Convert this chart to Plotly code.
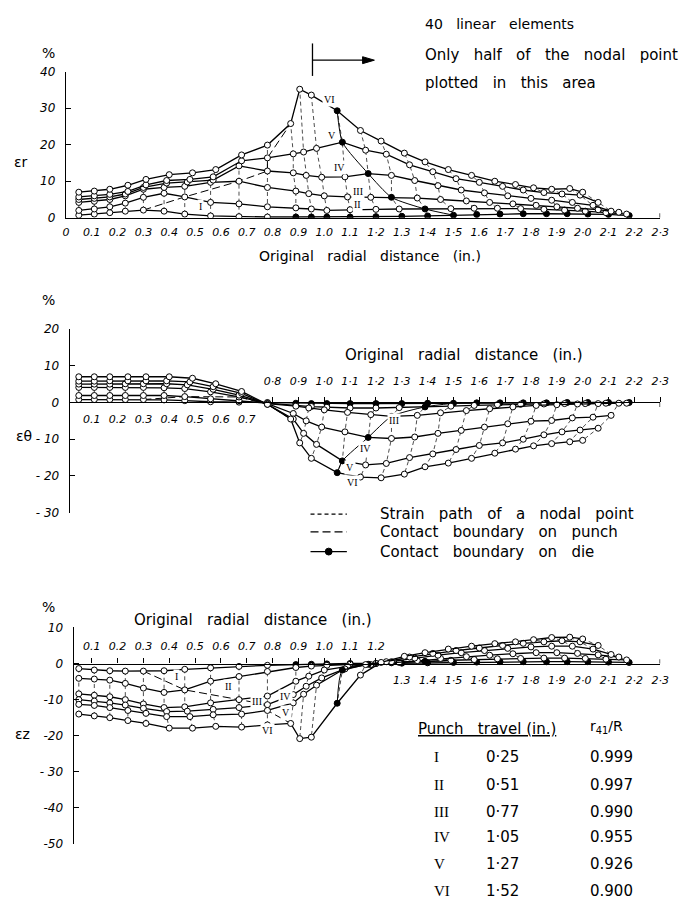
import plotly.graph_objects as go

W, H = 685, 920


def px(x):
    return x / W


def py(y):
    return 1 - y / H


# ---------------- data ----------------
STAGES = ["I", "II", "III", "IV", "V", "VI"]
PUNCH_TRAVEL = ["0·25", "0·51", "0·77", "1·05", "1·27", "1·52"]
R41_R = ["0.999", "0.997", "0.990", "0.955", "0.926", "0.900"]

# radial position (in.) of the plotted nodal points at each punch travel
X_I = [0.05, 0.11, 0.17, 0.23, 0.30, 0.38, 0.46, 0.56, 0.67, 0.78, 0.89, 0.95, 1.01, 1.10, 1.20, 1.30, 1.40, 1.50, 1.59, 1.68, 1.77, 1.86, 1.94, 2.02, 2.10, 2.18]
X_II = [0.05, 0.11, 0.17, 0.23, 0.30, 0.38, 0.46, 0.56, 0.67, 0.78, 0.89, 0.95, 1.01, 1.10, 1.20, 1.29, 1.39, 1.49, 1.58, 1.67, 1.76, 1.85, 1.93, 2.01, 2.09, 2.17]
X_III = [0.05, 0.11, 0.17, 0.23, 0.30, 0.38, 0.46, 0.56, 0.67, 0.78, 0.89, 0.94, 1.00, 1.09, 1.18, 1.26, 1.36, 1.45, 1.55, 1.64, 1.73, 1.82, 1.90, 1.98, 2.06, 2.14]
X_IV = [0.05, 0.11, 0.17, 0.23, 0.30, 0.39, 0.47, 0.57, 0.67, 0.78, 0.88, 0.93, 0.99, 1.08, 1.17, 1.26, 1.35, 1.44, 1.53, 1.62, 1.71, 1.80, 1.88, 1.96, 2.04, 2.11]
X_V = [0.05, 0.11, 0.17, 0.24, 0.31, 0.39, 0.48, 0.57, 0.68, 0.78, 0.88, 0.92, 0.97, 1.07, 1.16, 1.24, 1.33, 1.42, 1.51, 1.60, 1.69, 1.77, 1.85, 1.92, 1.99, 2.06]
X_VI = [0.05, 0.11, 0.17, 0.24, 0.31, 0.40, 0.49, 0.58, 0.68, 0.78, 0.87, 0.905, 0.95, 1.05, 1.14, 1.22, 1.31, 1.39, 1.48, 1.57, 1.66, 1.74, 1.81, 1.88, 1.95, 2.00]

# radial strain (%)
ER_I = [0.7, 1.0, 1.4, 1.8, 2.1, 1.8, 1.0, 0.5, 0.3, 0.2, 0.2, 0.2, 0.2, 0.2, 0.3, 0.4, 0.5, 0.7, 0.9, 1.0, 1.1, 1.1, 1.1, 1.0, 0.9, 0.6]
ER_II = [2.0, 2.4, 3.0, 4.0, 5.6, 6.7, 5.7, 4.2, 3.8, 3.0, 2.7, 2.4, 2.0, 2.2, 2.3, 2.4, 2.4, 2.5, 2.6, 2.6, 2.5, 2.3, 2.1, 1.8, 1.4, 1.0]
ER_III = [4.2, 4.5, 5.0, 6.0, 7.8, 8.3, 8.6, 9.7, 10.0, 8.3, 7.3, 6.6, 6.0, 5.7, 5.6, 5.6, 5.4, 5.0, 4.6, 4.2, 3.8, 3.4, 3.0, 2.6, 2.2, 1.5]
ER_IV = [5.0, 5.3, 5.7, 6.5, 8.3, 9.5, 9.8, 10.3, 14.2, 12.8, 12.3, 11.6, 11.1, 11.2, 12.1, 11.6, 10.2, 8.8, 7.6, 6.8, 6.0, 5.3, 4.8, 4.2, 3.4, 1.8]
ER_V = [5.7, 6.0, 6.4, 7.2, 9.0, 10.2, 10.5, 11.2, 15.6, 16.4, 17.5, 18.0, 19.0, 20.7, 18.5, 17.4, 14.5, 12.6, 10.7, 9.7, 8.6, 7.6, 6.9, 6.5, 6.2, 4.2]
ER_VI = [7.0, 7.3, 7.8, 8.9, 10.5, 11.8, 12.3, 13.2, 17.2, 19.9, 25.8, 35.2, 33.6, 29.3, 23.9, 21.0, 17.7, 15.3, 13.2, 11.6, 10.0, 9.1, 8.2, 7.8, 8.0, 7.0]

# circumferential strain (%)
ET_I = [0.8, 0.8, 0.8, 0.8, 0.8, 0.7, 0.5, 0.2, 0.1, 0.0, -0.2, -0.3, -0.3, -0.3, -0.3, -0.3, -0.2, -0.2, -0.1, -0.1, -0.1, -0.1, 0.0, 0.0, 0.0, 0.0]
ET_II = [1.9, 1.9, 1.9, 1.9, 1.9, 1.9, 1.6, 1.0, 0.5, -0.2, -0.8, -1.1, -1.3, -1.5, -1.5, -1.4, -1.2, -1.0, -0.8, -0.6, -0.5, -0.4, -0.3, -0.3, -0.2, -0.2]
ET_III = [4.1, 4.1, 4.1, 4.1, 4.1, 4.0, 3.8, 2.9, 1.5, -0.3, -1.0, -1.5, -2.0, -2.7, -3.3, -3.8, -3.5, -2.8, -2.2, -1.7, -1.2, -0.8, -0.6, -0.4, -0.3, -0.2]
ET_IV = [5.0, 5.0, 5.0, 5.1, 5.1, 5.1, 4.8, 3.6, 2.0, -0.3, -3.0, -5.0, -6.7, -8.0, -9.5, -9.8, -9.4, -8.4, -7.6, -6.7, -5.8, -5.1, -4.9, -4.2, -4.0, -3.5]
ET_V = [5.8, 5.8, 5.9, 5.9, 5.9, 5.9, 5.6, 4.3, 2.5, -0.5, -4.5, -8.4, -11.4, -15.9, -17.0, -16.6, -15.0, -14.0, -12.8, -11.7, -11.0, -10.0, -8.8, -8.0, -7.5, -7.0]
ET_VI = [7.0, 7.0, 7.0, 7.0, 7.0, 7.0, 6.6, 5.1, 3.0, -0.5, -4.5, -11.0, -15.2, -19.1, -20.3, -20.5, -19.5, -17.5, -16.5, -15.2, -13.8, -12.7, -11.8, -11.2, -10.7, -10.3]

# thickness strain (%)
EZ_I = [-1.4, -1.8, -2.0, -2.1, -2.1, -2.0, -1.6, -1.2, -0.8, -0.5, -0.3, -0.2, -0.1, 0.0, 0.0, 0.1, 0.2, 0.3, 0.4, 0.5, 0.5, 0.5, 0.5, 0.5, 0.4, 0.3]
EZ_II = [-4.1, -4.3, -4.6, -5.5, -6.8, -8.0, -7.3, -4.9, -3.6, -2.2, -1.1, -0.7, -0.5, -0.2, 0.0, 0.3, 0.6, 0.9, 1.1, 1.3, 1.4, 1.5, 1.5, 1.4, 1.2, 1.0]
EZ_III = [-8.4, -8.8, -9.2, -10.0, -11.2, -12.2, -12.0, -10.9, -10.0, -9.0, -4.9, -3.5, -1.8, -0.8, -0.3, 0.2, 0.8, 1.4, 1.9, 2.3, 2.7, 3.0, 3.0, 2.8, 2.4, 1.8]
EZ_IV = [-10.0, -10.4, -10.9, -11.5, -12.4, -13.3, -13.2, -12.7, -12.2, -11.4, -8.6, -6.3, -4.0, -1.5, -0.2, 0.5, 1.5, 2.3, 3.0, 3.6, 4.2, 4.6, 4.8, 4.8, 4.0, 2.5]
EZ_V = [-11.3, -11.6, -12.2, -13.0, -13.8, -14.7, -14.7, -14.2, -14.0, -13.0, -10.9, -8.5, -6.0, -1.8, -0.3, 0.5, 1.8, 2.8, 3.6, 4.3, 5.0, 5.6, 6.0, 6.3, 6.0, 5.0]
EZ_VI = [-14.0, -14.5, -15.0, -15.8, -16.6, -17.9, -17.9, -17.4, -17.6, -17.0, -16.6, -20.8, -20.4, -11.0, -3.2, 0.3, 2.0, 3.0, 4.0, 4.8, 5.5, 6.0, 6.6, 7.2, 7.3, 6.8]

# node index of the contact boundaries at each stage (I..VI)
DIE_NODE = [17, 16, 15, 14, 13, 13]
PUNCH_NODE = [4, 6, 8, 9, 9, 10]
FIRST_DIE_NODE_I = 10  # nodes of stage I lying on the die from here on

# tick labels (original radial distance, in.)
TICKS_ALL = [0.1 * i for i in range(24)]
TOP_TEXT = ["0", "0.1", "0.2", "0.3", "0.4", "0.5", "0.6", "0.7", "0.8", "0.9", "1.0", "1.1",
            "1·2", "1.3", "1·4", "1·5", "1.6", "1·7", "1·8", "1·9", "2·0", "2·1", "2·2", "2·3"]
MID_LEFT_TEXT = ["0.1", "0.2", "0.3", "0.4", "0.5", "0.6", "0.7"]
MID_RIGHT_TEXT = ["0·8", "0·9", "1·0", "1·1", "1·2", "1·3", "1·4", "1·5", "1·6", "1·7", "1·8",
                  "1·9", "2·0", "2·1", "2·2", "2·3"]
BOT_LEFT_TEXT = ["0.1", "0.2", "0.3", "0.4", "0.5", "0.6", "0.7", "0.8", "0.9", "1.0", "1.1", "1.2"]
BOT_RIGHT_TEXT = ["1.3", "1.4", "1·5", "1·6", "1·7", "1·8", "1·9", "2·0", "2·1", "2·2", "2·3"]

TOP_Y_TICKS = [0, 10, 20, 30, 40]
TOP_Y_TEXT = ["0", "10", "20", "30", "40"]
MID_Y_TICKS = [20, 10, 0, -10, -20, -30]
MID_Y_TEXT = ["20", "10", "0", "- 10", "- 20", "- 30"]
BOT_Y_TICKS = [10, 0, -10, -20, -30, -40, -50]
BOT_Y_TEXT = ["10", "0", "-10", "-20", "- 30", "-40", "-50"]

X_POS = [X_I, X_II, X_III, X_IV, X_V, X_VI]
PANEL_VALUES = [
    [ER_I, ER_II, ER_III, ER_IV, ER_V, ER_VI],
    [ET_I, ET_II, ET_III, ET_IV, ET_V, ET_VI],
    [EZ_I, EZ_II, EZ_III, EZ_IV, EZ_V, EZ_VI],
]

# ---------------- layout geometry ----------------
FONT = "DejaVu Sans"
SP = "\u00a0"
PX_PER_IN = 263.0
X0_PX = 64.0
X_END = 2.3
panels = [
    dict(xa="x", ya="y", xstart=0.0, yr=[0, 40], ypx=(65.7, 214.0)),
    dict(xa="x2", ya="y2", xstart=0.015, yr=[-30, 20], ypx=(327.0, 513.5)),
    dict(xa="x3", ya="y3", xstart=0.03, yr=[-50, 10], ypx=(630.0, 850.0)),
]
for p in panels:
    d0 = px(X0_PX + PX_PER_IN * p["xstart"])
    d1 = px(X0_PX + PX_PER_IN * X_END)
    p["xdom"] = [d0, d1]
    p["ydom"] = [py(p["ypx"][1]), py(p["ypx"][0])]
    lo, hi = p["yr"]
    p["zero"] = p["ydom"][0] + (0 - lo) / (hi - lo) * (p["ydom"][1] - p["ydom"][0])

fig = go.Figure()

for p, vals in zip(panels, PANEL_VALUES):
    xa, ya = p["xa"], p["ya"]
    n = len(X_I)
    # strain paths of the nodal points
    sx, sy = [], []
    for k in range(n):
        for c in range(6):
            sx.append(X_POS[c][k])
            sy.append(vals[c][k])
        sx.append(None)
        sy.append(None)
    fig.add_trace(go.Scatter(x=sx, y=sy, mode="lines", xaxis=xa, yaxis=ya,
                             line=dict(color="black", width=0.7, dash="4px,3px"),
                             hoverinfo="skip", showlegend=False))
    # contact boundary on punch
    fig.add_trace(go.Scatter(x=[X_POS[c][PUNCH_NODE[c]] for c in range(6)],
                             y=[vals[c][PUNCH_NODE[c]] for c in range(6)],
                             mode="lines", xaxis=xa, yaxis=ya,
                             line=dict(color="black", width=1.0, dash="8px,4px"),
                             hoverinfo="skip", showlegend=False))
    # contact boundary on die
    fig.add_trace(go.Scatter(x=[X_POS[c][DIE_NODE[c]] for c in range(6)],
                             y=[vals[c][DIE_NODE[c]] for c in range(6)],
                             mode="lines", xaxis=xa, yaxis=ya,
                             line=dict(color="black", width=1.0, shape="spline", smoothing=0.6),
                             hoverinfo="skip", showlegend=False))
    # strain distributions at each punch travel
    for c in range(6):
        colors = []
        for k in range(n):
            filled = (k == DIE_NODE[c]) or (c == 0 and k >= FIRST_DIE_NODE_I)
            colors.append("black" if filled else "white")
        fig.add_trace(go.Scatter(x=X_POS[c], y=vals[c], mode="lines+markers",
                                 xaxis=xa, yaxis=ya, name=STAGES[c],
                                 line=dict(color="black", width=1.3),
                                 marker=dict(symbol="circle", size=6, color=colors,
                                             line=dict(color="black", width=1)),
                                 showlegend=False))

# empty traces so the overlay label axes exist
fig.add_trace(go.Scatter(x=[], y=[], xaxis="x4", yaxis="y2", showlegend=False))
fig.add_trace(go.Scatter(x=[], y=[], xaxis="x5", yaxis="y3", showlegend=False))

tick_font = dict(family=FONT, size=11, color="black", style="italic")
ytick_font = dict(family=FONT, size=12, color="black", style="italic")
common_x = dict(showgrid=False, zeroline=False, linecolor="black", linewidth=1.3,
                tickfont=tick_font, tickcolor="black", fixedrange=True)
common_y = dict(showgrid=False, zeroline=False, showline=True, linecolor="black",
                linewidth=1.3, ticks="inside", ticklen=5, tickcolor="black",
                tickfont=ytick_font, ticklabelstandoff=7, fixedrange=True)

P1, P2, P3 = panels
fig.update_layout(
    width=W, height=H, margin=dict(l=0, r=0, t=0, b=0),
    paper_bgcolor="white", plot_bgcolor="white", showlegend=False,
    xaxis=dict(domain=P1["xdom"], range=[P1["xstart"], X_END], anchor="y", showline=True,
               tickvals=TICKS_ALL, ticktext=TOP_TEXT, ticks="", ticklabelstandoff=4, **common_x),
    yaxis=dict(domain=P1["ydom"], range=P1["yr"], anchor="x",
               tickvals=TOP_Y_TICKS, ticktext=TOP_Y_TEXT, **common_y),
    xaxis2=dict(domain=P2["xdom"], range=[P2["xstart"], X_END], anchor="free", position=P2["zero"],
                side="bottom", showline=True, tickvals=TICKS_ALL[1:8], ticktext=MID_LEFT_TEXT,
                ticks="", ticklabelstandoff=6, **common_x),
    xaxis4=dict(range=[P2["xstart"], X_END], overlaying="x2", anchor="free", position=P2["zero"],
                side="top", showline=False, tickvals=TICKS_ALL[8:], ticktext=MID_RIGHT_TEXT,
                ticks="outside", ticklen=5, ticklabelstandoff=8, **common_x),
    yaxis2=dict(domain=P2["ydom"], range=P2["yr"], anchor="x2",
                tickvals=MID_Y_TICKS, ticktext=MID_Y_TEXT, **common_y),
    xaxis3=dict(domain=P3["xdom"], range=[P3["xstart"], X_END], anchor="free", position=P3["zero"],
                side="top", showline=True, tickvals=TICKS_ALL[1:13], ticktext=BOT_LEFT_TEXT,
                ticks="outside", ticklen=5, ticklabelstandoff=4, **common_x),
    xaxis5=dict(range=[P3["xstart"], X_END], overlaying="x3", anchor="free", position=P3["zero"],
                side="bottom", showline=False, tickvals=TICKS_ALL[13:], ticktext=BOT_RIGHT_TEXT,
                ticks="", ticklabelstandoff=8, **common_x),
    yaxis3=dict(domain=P3["ydom"], range=P3["yr"], anchor="x3",
                tickvals=BOT_Y_TICKS, ticktext=BOT_Y_TEXT, **common_y),
)

# end hooks of the horizontal axes
for p, d in zip(panels, [1.2, -1.2, 1.2]):
    fig.add_shape(type="line", xref=p["xa"], yref=p["ya"], x0=X_END, x1=X_END, y0=0, y1=d,
                  line=dict(color="black", width=1.3))

anns = []


def text(x, y, s, size=14, anchor="center", family=FONT, style="normal"):
    anns.append(dict(x=px(x), y=py(y), xref="paper", yref="paper", text=s, showarrow=False,
                     xanchor=anchor, yanchor="middle",
                     font=dict(family=family, size=size, color="black", style=style)))


def spaced(s, n=1):
    return s.replace(" ", SP * n + " ")


# axis titles
text(46, 47, "%")
text(18, 157, "εr")
text(374, 253, spaced("Original radial distance (in.)", 2), size=14)
text(46, 298, "%")
text(21, 436, "εθ")
text(469, 353, spaced("Original radial distance (in.)", 2), size=15)
text(46, 609, "%")
text(20, 738, "εz")
text(254, 622, spaced("Original radial distance (in.)", 2), size=15)

# top-right notes with the boundary marker and arrow
text(427, 17, spaced("40 linear elements", 2), size=14, anchor="left")
text(427, 49, spaced("Only half of the nodal point", 2), size=15, anchor="left")
text(427, 77, spaced("plotted in this area", 2), size=15, anchor="left")
fig.add_shape(type="line", xref="paper", yref="paper", x0=px(315), x1=px(315), y0=py(37), y1=py(70),
              line=dict(color="black", width=1.3))
fig.add_shape(type="line", xref="paper", yref="paper", x0=px(315), x1=px(368), y0=py(54), y1=py(54),
              line=dict(color="black", width=1.3))
fig.add_shape(type="path", xref="paper", yref="paper",
              path=f"M {px(366)} {py(50.5)} L {px(378)} {py(54)} L {px(366)} {py(57.5)} Z",
              fillcolor="black", line=dict(color="black", width=1))

# legend
legend_rows = [
    (515, "Strain path of a nodal point", "4px,3px"),
    (533, "Contact boundary on punch", "8px,4px"),
    (553, "Contact boundary on die", "solid"),
]
for yy, label, dash in legend_rows:
    fig.add_shape(type="line", xref="paper", yref="paper", x0=px(313), x1=px(350), y0=py(yy), y1=py(yy),
                  line=dict(color="black", width=1.2, dash=dash))
    text(382, yy, spaced(label, 2), size=15, anchor="left")
fig.add_shape(type="circle", xref="paper", yref="paper", x0=px(328), x1=px(335), y0=py(556.5), y1=py(549.5),
              fillcolor="black", line=dict(color="black", width=1))

# stage labels on the curves
STAGE_LABEL_POS = [
    [(0.52, 3.2), (1.13, 3.5), (1.13, 7.3), (1.06, 13.7), (1.03, 22.6), (1.02, 32.5)],
    [None, None, (1.27, -4.9), (1.16, -12.4), (1.10, -17.8), (1.11, -21.9)],
    [(0.43, -3.6), (0.63, -6.3), (0.74, -10.4), (0.85, -9.1), (0.85, -13.6), (0.78, -18.6)],
]
for p, poss in zip(panels, STAGE_LABEL_POS):
    for c, pos in enumerate(poss):
        if pos is None:
            continue
        anns.append(dict(x=pos[0], y=pos[1], xref=p["xa"], yref=p["ya"], text=STAGES[c],
                         showarrow=False, font=dict(family="Liberation Serif", size=10, color="black"),
                         bgcolor="white"))

# table of punch travel
text(420, 733, "<u>" + spaced("Punch travel", 2) + " (in.)</u>", size=15, anchor="left")
text(595, 731, "r<sub>41</sub>/R", size=14, anchor="left")
row_y = [762, 790, 817, 843, 870, 898]
for c in range(6):
    text(437, row_y[c], STAGES[c], size=15, anchor="left", family="Liberation Serif")
    text(490, row_y[c], PUNCH_TRAVEL[c], size=15, anchor="left")
    text(595, row_y[c], R41_R[c], size=15, anchor="left")

fig.update_layout(annotations=anns)
fig.write_html("out.html", config={"displayModeBar": False},
               post_script="document.body.style.margin='0';")
